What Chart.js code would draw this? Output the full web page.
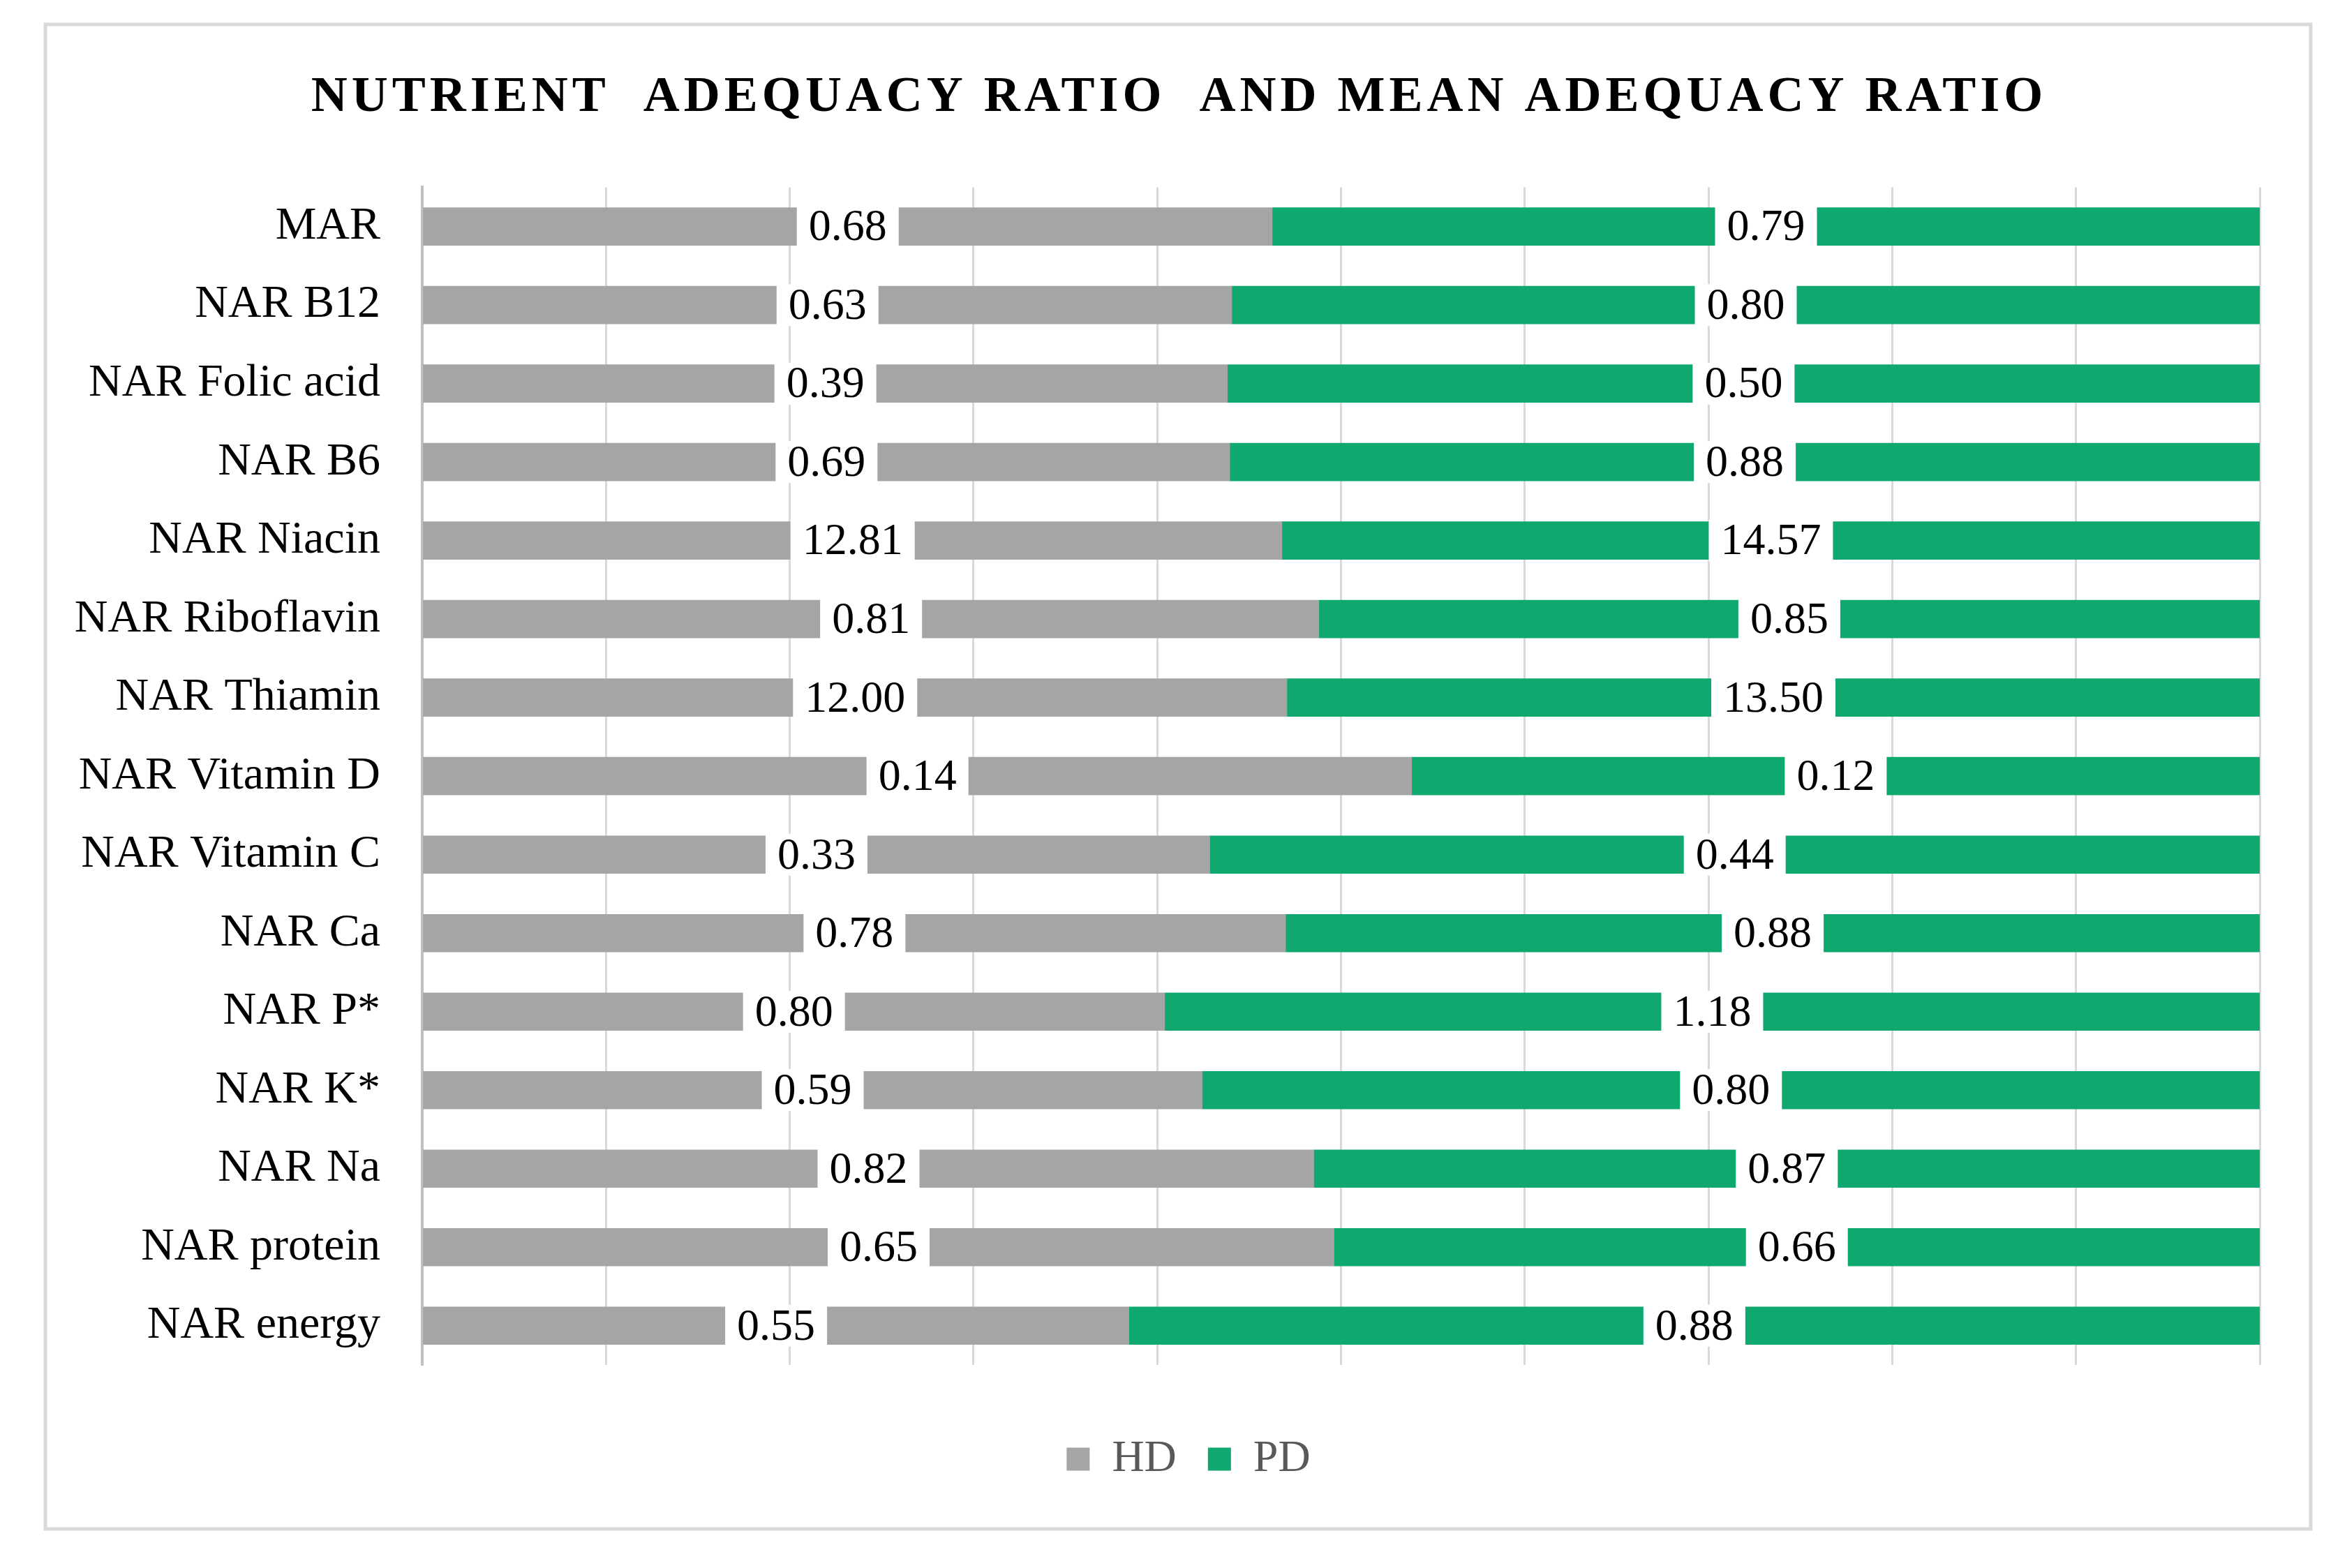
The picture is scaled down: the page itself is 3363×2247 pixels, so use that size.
<!DOCTYPE html>
<html>
<head>
<meta charset="utf-8">
<script src="https://cdn.jsdelivr.net/npm/chart.js@4"></script>
<style>
  html, body { margin: 0; padding: 0; background: #fff; }
  #wrap { width: 3363px; height: 2247px; }
</style>
</head>
<body>
<div id="wrap"><canvas id="narChart"></canvas></div>
<script>
const categories = [
  "MAR", "NAR B12", "NAR Folic acid", "NAR B6", "NAR Niacin", "NAR Riboflavin",
  "NAR Thiamin", "NAR Vitamin D", "NAR Vitamin C", "NAR Ca", "NAR P*", "NAR K*",
  "NAR Na", "NAR protein", "NAR energy"
];
const hdValues = [0.68, 0.63, 0.39, 0.69, 12.81, 0.81, 12.00, 0.14, 0.33, 0.78, 0.80, 0.59, 0.82, 0.65, 0.55];
const pdValues = [0.79, 0.80, 0.50, 0.88, 14.57, 0.85, 13.50, 0.12, 0.44, 0.88, 1.18, 0.80, 0.87, 0.66, 0.88];
const seriesNames = ["HD", "PD"];
const chartTitle = "NUTRIENT  ADEQUACY RATIO  AND MEAN ADEQUACY RATIO";

// 100% stacked: each bar is split by share of the row total
const hdShare = hdValues.map((v, i) => v / (v + pdValues[i]) * 100);
const pdShare = pdValues.map((v, i) => v / (hdValues[i] + v) * 100);

const serif = "'Liberation Serif', 'Times New Roman', serif";
const titlePad = { top: 97, bottom: 85 };
const titleSize = 72;

// white page + light frame round the chart
const framePlugin = {
  id: "frame",
  beforeDraw(chart) {
    const ctx = chart.ctx;
    ctx.save();
    ctx.fillStyle = "#fff";
    ctx.fillRect(0, 0, chart.width, chart.height);
    ctx.strokeStyle = "#D9D9D9";
    ctx.lineWidth = 5;
    ctx.strokeRect(65, 35, 3246, 2156);
    ctx.restore();
  }
};

// legend sits centred on the frame, not on the plot box
const legendShift = {
  id: "legendShift",
  afterLayout(chart) {
    if (!chart.legend) return;
    chart.legend.left += 49;
    chart.legend.right += 49;
  }
};

// title drawn by hand so it can be letter-spaced like the original
const spacedTitle = {
  id: "spacedTitle",
  afterDraw(chart) {
    const ctx = chart.ctx;
    const tb = chart.titleBlock;
    ctx.save();
    ctx.font = "bold " + titleSize + "px " + serif;
    if ("letterSpacing" in ctx) ctx.letterSpacing = "6px";
    ctx.fillStyle = "#000";
    ctx.textAlign = "center";
    ctx.textBaseline = "middle";
    ctx.fillText(chartTitle, chart.width / 2 + 8, tb.top + titlePad.top + titleSize * 0.6);
    ctx.restore();
  }
};

// raw values printed on each segment, on a white box
const valueLabels = {
  id: "valueLabels",
  afterDatasetsDraw(chart) {
    const ctx = chart.ctx;
    const raw = [hdValues, pdValues];
    ctx.save();
    ctx.font = "64px " + serif;
    ctx.textAlign = "center";
    ctx.textBaseline = "middle";
    chart.data.datasets.forEach((ds, di) => {
      chart.getDatasetMeta(di).data.forEach((bar, i) => {
        const txt = raw[di][i].toFixed(2);
        const cx = (bar.x + bar.base) / 2;
        const w = ctx.measureText(txt).width + 34;
        const h = bar.height + 6;
        ctx.fillStyle = "#fff";
        ctx.fillRect(cx - w / 2, bar.y - h / 2, w, h);
        ctx.fillStyle = "#000";
        ctx.fillText(txt, cx, bar.y + 3);
      });
    });
    ctx.restore();
  }
};

new Chart(document.getElementById("narChart"), {
  type: "bar",
  data: {
    labels: categories,
    datasets: [
      { label: seriesNames[0], data: hdShare, backgroundColor: "#A5A5A5", barThickness: 54 },
      { label: seriesNames[1], data: pdShare, backgroundColor: "#0FA86E", barThickness: 54 }
    ]
  },
  options: {
    indexAxis: "y",
    responsive: true,
    maintainAspectRatio: false,
    animation: false,
    layout: { padding: { left: 70, right: 125, top: 0, bottom: 114 } },
    scales: {
      x: {
        stacked: true,
        min: 0,
        max: 100,
        ticks: { display: false, stepSize: 10 },
        grid: { color: "#D9D9D9", lineWidth: 3, drawTicks: false },
        border: { display: false },
        afterFit(scale) { scale.height = 58; }
      },
      y: {
        stacked: true,
        ticks: { color: "#000", font: { family: serif, size: 66 }, padding: 60 },
        grid: { display: false, drawTicks: false },
        border: { color: "#BFBFBF", width: 4 },
        afterFit(scale) { scale.width = 535; }
      }
    },
    plugins: {
      title: {
        display: true,
        text: chartTitle,
        color: "rgba(0,0,0,0)",
        font: { family: serif, size: titleSize, weight: "bold", lineHeight: 1.2 },
        padding: titlePad
      },
      legend: {
        position: "bottom",
        labels: {
          color: "#595959",
          font: { family: serif, size: 64 },
          boxWidth: 33,
          boxHeight: 33,
          padding: 45
        }
      },
      tooltip: { enabled: false }
    }
  },
  plugins: [framePlugin, legendShift, valueLabels, spacedTitle]
});
</script>
</body>
</html>
